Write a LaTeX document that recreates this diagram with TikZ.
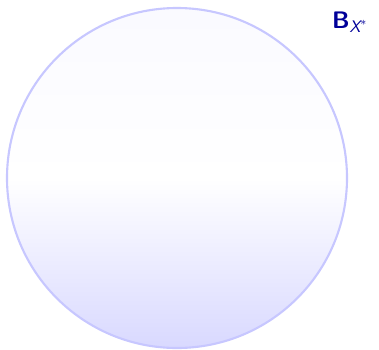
\documentclass[tikz,border=0pt]{standalone}
\usepackage{amsmath}
\usepackage{tikz}

\pgfdeclareverticalshading{ballshade}{100bp}{color(0bp)=(blue!15); color(25bp)=(blue!15); color(50bp)=(white); color(75bp)=(blue!2); color(100bp)=(blue!2)}

\begin{document}
\begin{tikzpicture}[x=0.025cm, y=-0.025cm,
  ball/.style={circle, draw=blue!22, line width=1.5pt, shading=ballshade, minimum size=340*0.025cm, inner sep=0pt},
  balllabel/.style={text=blue!60!black, font=\fontsize{17}{19}\selectfont, inner sep=0pt}]

  \useasboundingbox (0,0) rectangle (379,349);

  % unit ball of the dual
  \node[ball] (unitball) at (177,178) {};
  \node[balllabel] (ballname) at (350,22) {{\sffamily\bfseries B}$_{\text{\sffamily\itshape X}^{*}}$};

\end{tikzpicture}
\end{document}
